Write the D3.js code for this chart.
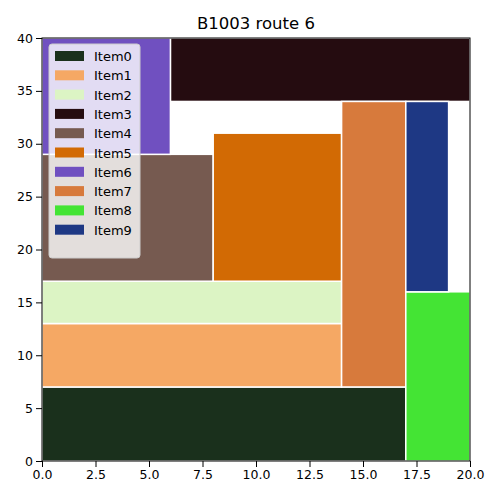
<!DOCTYPE html>
<html><head><meta charset="utf-8">
<script src="https://cdn.jsdelivr.net/npm/d3@7"></script>
<style>body{margin:0;background:#fff}text{font-family:"DejaVu Sans",sans-serif}</style>
</head><body><svg id="c" width="500" height="500"></svg>
<script>
var items = ["Item0","Item1","Item2","Item3","Item4","Item5","Item6","Item7","Item8","Item9"];
var x0 = [0, 0, 0, 6, 0, 8, 0, 14, 17, 17];
var x1 = [17, 14, 14, 20, 8, 14, 6, 17, 20, 19];
var y0 = [0, 7, 13, 34, 17, 17, 29, 7, 0, 16];
var y1 = [7, 13, 17, 40, 29, 31, 40, 34, 16, 34];
var colors = ["#1a301c","#f5a864","#dcf4c4","#250c10","#765a50","#d26a04","#7050c0","#d77a3c","#44e434","#1e3884"];
var xTicks = [0, 2.5, 5, 7.5, 10, 12.5, 15, 17.5, 20];
var yTicks = [0, 5, 10, 15, 20, 25, 30, 35, 40];

var svg = d3.select("#c");
var x = d3.scaleLinear().domain([0, 20]).range([42, 470]);
var y = d3.scaleLinear().domain([0, 40]).range([461, 38]);

svg.selectAll("rect.bar").data(items).enter().append("rect")
    .attr("x", function (d, i) { return x(x0[i]); })
    .attr("y", function (d, i) { return y(y1[i]); })
    .attr("width", function (d, i) { return x(x1[i]) - x(x0[i]); })
    .attr("height", function (d, i) { return y(y0[i]) - y(y1[i]); })
    .attr("fill", function (d, i) { return colors[i]; })
    .attr("stroke", "#fff").attr("stroke-width", 1.5);

var xa = svg.append("g").attr("transform", "translate(0,461)")
    .call(d3.axisBottom(x).tickValues(xTicks).tickFormat(d3.format(".1f")).tickSizeOuter(0));
var ya = svg.append("g").attr("transform", "translate(42,0)")
    .call(d3.axisLeft(y).tickValues(yTicks).tickFormat(d3.format("d")).tickSizeOuter(0));
[xa, ya].forEach(function (a) {
    a.select(".domain").remove();
    a.selectAll("text").attr("font-size", 12.5).attr("fill", "#000");
    a.selectAll("line").attr("stroke", "#000");
});
svg.append("rect").attr("x", 42).attr("y", 38).attr("width", 428).attr("height", 423)
    .attr("fill", "none").attr("stroke", "#000").attr("stroke-width", 1);

svg.append("text").attr("x", 256).attr("y", 29).attr("text-anchor", "middle")
    .attr("font-size", 16.5).text("B1003 route 6");

// legend
var lg = svg.append("g");
lg.append("rect").attr("x", 49).attr("y", 44).attr("width", 91).attr("height", 214)
    .attr("rx", 3).attr("fill", "#fff").attr("fill-opacity", 0.8).attr("stroke", "#ccc");
var row = lg.selectAll("g.row").data(items).enter().append("g")
    .attr("transform", function (d, i) { return "translate(0," + (56 + i * 19.3) + ")"; });
row.append("rect").attr("x", 55).attr("y", -5).attr("width", 29).attr("height", 10)
    .attr("fill", function (d, i) { return colors[i]; });
row.append("text").attr("x", 94).attr("y", 5).attr("font-size", 13).text(function (d) { return d; });
</script></body></html>
